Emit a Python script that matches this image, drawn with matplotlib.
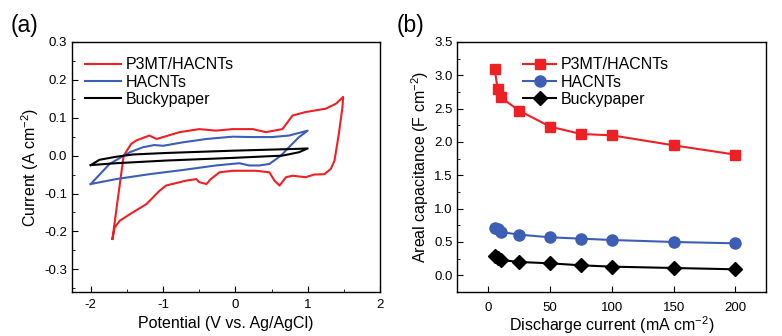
import numpy as np
import matplotlib
matplotlib.use('Agg')
import matplotlib.pyplot as plt
from matplotlib.ticker import MultipleLocator

plt.rcParams['font.family'] = ['Liberation Sans', 'DejaVu Sans']
plt.rcParams['axes.unicode_minus'] = False

# (a) cyclic voltammetry loops: potential (V) and current (A cm-2)
p3mt_v = [-1.70, -1.545, -1.44, -1.37, -1.19, -1.09, -1.00, -0.77, -0.50, -0.27, -0.04, 0.24,
          0.42, 0.65, 0.79, 0.97, 1.25, 1.39, 1.49,
          1.48, 1.43, 1.37, 1.32, 1.23, 1.09, 0.97, 0.79, 0.70, 0.61, 0.54, 0.47, 0.285,
          -0.04, -0.22, -0.34, -0.40, -0.50, -0.54, -0.68, -0.96, -1.05, -1.23, -1.42,
          -1.60, -1.67, -1.70]
p3mt_i = [-0.220, 0.000, 0.031, 0.040, 0.053, 0.044, 0.049, 0.062, 0.070, 0.066, 0.070, 0.070,
          0.062, 0.070, 0.106, 0.115, 0.124, 0.137, 0.155,
          0.128, 0.057, -0.013, -0.035, -0.049, -0.050, -0.057, -0.053, -0.057, -0.079, -0.066,
          -0.044, -0.040, -0.040, -0.044, -0.062, -0.075, -0.070, -0.062, -0.066, -0.079,
          -0.093, -0.128, -0.150, -0.172, -0.190, -0.220]

hacnt_v = [-2.00, -1.74, -1.46, -1.28, -1.12, -1.00, -0.73, -0.40, -0.04, 0.24, 0.51, 0.74, 1.00,
           0.88, 0.74, 0.63, 0.47, 0.33, 0.19, 0.055, -0.27, -0.73, -1.19, -1.65, -2.00]
hacnt_i = [-0.075, -0.022, 0.009, 0.022, 0.028, 0.026, 0.035, 0.044, 0.050, 0.049, 0.049, 0.053,
           0.066, 0.049, 0.022, 0.000, -0.022, -0.026, -0.026, -0.020, -0.026, -0.038, -0.049,
           -0.062, -0.075]

bucky_v = [-2.00, -1.88, -1.65, -1.42, -0.96, -0.04, 0.88, 1.00,
           0.88, 0.65, -0.04, -0.96, -1.65, -2.00]
bucky_i = [-0.025, -0.011, -0.003, 0.003, 0.007, 0.013, 0.018, 0.019,
           0.009, 0.000, -0.006, -0.013, -0.020, -0.025]

# (b) areal capacitance vs discharge current
current = [5, 7.5, 10, 25, 50, 75, 100, 150, 200]
cap_p3mt = [3.10, 2.80, 2.67, 2.47, 2.23, 2.12, 2.10, 1.95, 1.81]
cap_hacnt = [0.71, 0.69, 0.65, 0.61, 0.57, 0.55, 0.53, 0.50, 0.48]
cap_bucky = [0.29, 0.26, 0.23, 0.20, 0.18, 0.15, 0.13, 0.11, 0.09]

red = '#ee2024'
blue = '#3d5eb5'

fig = plt.figure(figsize=(7.82, 3.36), dpi=100)
ax1 = fig.add_axes([0.092, 0.131, 0.394, 0.744])
ax2 = fig.add_axes([0.585, 0.131, 0.395, 0.744])

ax1.plot(p3mt_v, p3mt_i, color=red, lw=1.5, label='P3MT/HACNTs')
ax1.plot(hacnt_v, hacnt_i, color=blue, lw=1.5, label='HACNTs')
ax1.plot(bucky_v, bucky_i, color='black', lw=1.5, label='Buckypaper')
ax1.set_xlim(-2.26, 2.0)
ax1.set_ylim(-0.36, 0.3)
ax1.xaxis.set_major_locator(MultipleLocator(1))
ax1.xaxis.set_minor_locator(MultipleLocator(0.5))
ax1.yaxis.set_major_locator(MultipleLocator(0.1))
ax1.yaxis.set_minor_locator(MultipleLocator(0.05))
ax1.yaxis.set_major_formatter(matplotlib.ticker.FormatStrFormatter('%.1f'))
ax1.set_xlabel('Potential (V vs. Ag/AgCl)', fontsize=11.5, labelpad=4)
ax1.set_ylabel('Current (A cm$^{\\mathregular{-2}}$)', fontsize=11.5, labelpad=2)
ax1.legend(loc='upper left', frameon=False, fontsize=11.5, handlelength=2.3,
           handletextpad=0.3, labelspacing=0.15, borderaxespad=0.4,
           bbox_to_anchor=(0.0, 0.99))

ax2.plot(current, cap_p3mt, color=red, lw=1.5, marker='s', ms=7, label='P3MT/HACNTs')
ax2.plot(current, cap_hacnt, color=blue, lw=1.5, marker='o', ms=8, label='HACNTs')
ax2.plot(current, cap_bucky, color='black', lw=1.5, marker='D', ms=7, label='Buckypaper')
ax2.set_xlim(-25, 225)
ax2.set_ylim(-0.25, 3.5)
ax2.xaxis.set_major_locator(MultipleLocator(50))
ax2.yaxis.set_major_locator(MultipleLocator(0.5))
ax2.yaxis.set_minor_locator(MultipleLocator(0.25))
ax2.yaxis.set_major_formatter(matplotlib.ticker.FormatStrFormatter('%.1f'))
ax2.tick_params(axis='x', which='both', length=0, pad=7)
ax2.set_xlabel('Discharge current (mA cm$^{\\mathregular{-2}}$)', fontsize=11.5, labelpad=0.5)
ax2.set_ylabel('Areal capacitance (F cm$^{\\mathregular{-2}}$)', fontsize=11.5, labelpad=2)
ax2.legend(loc='upper left', frameon=False, fontsize=11.5, handlelength=2.1,
           handletextpad=0.3, labelspacing=0.15, borderaxespad=0.4,
           bbox_to_anchor=(0.17, 0.99))

for ax in (ax1, ax2):
    ax.tick_params(which='both', direction='in', labelsize=9.5)
    ax.tick_params(which='major', length=4)
    ax.tick_params(which='minor', length=2.5)
    ax.tick_params(top=False, right=False)
    for s in ax.spines.values():
        s.set_linewidth(1.0)
ax1.tick_params(axis='x', pad=5)

fig.text(0.014, 0.905, '(a)', fontsize=16.5)
fig.text(0.507, 0.905, '(b)', fontsize=16.5)

fig.savefig('out.png', dpi=100)
